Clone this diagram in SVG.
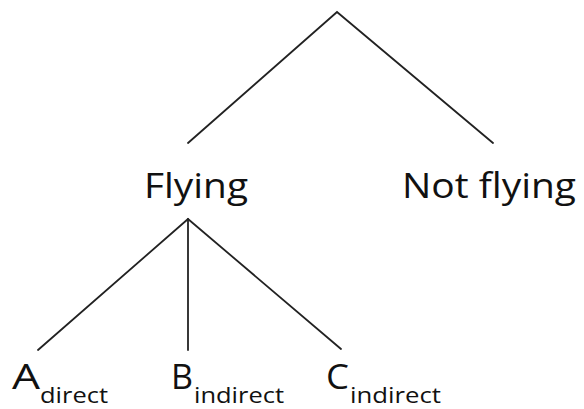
<svg xmlns="http://www.w3.org/2000/svg" width="584" height="409" viewBox="0 0 584 409">
<style>
.t{font-family:"Open Sans","Liberation Sans",sans-serif;fill:#111}
.big{font-size:35px}
.sub{font-size:22px}
.c{stroke:#222;stroke-width:1.8;fill:none;stroke-linecap:round}
</style>
<rect width="584" height="409" fill="#fff"/>
<g id="connectors">
<path class="c" d="M188,143 L337,12 L493,143"/>
<path class="c" d="M38,350 L188,219 L341,349"/>
<path class="c" d="M188,219 L188,350"/>
</g>
<g id="flying"><text class="t big" x="144" y="198" textLength="104" lengthAdjust="spacingAndGlyphs">Flying</text></g>
<g id="not-flying"><text class="t big" x="402" y="198" textLength="174" lengthAdjust="spacingAndGlyphs">Not flying</text></g>
<g id="a-direct"><text class="t big" x="12" y="389" textLength="28" lengthAdjust="spacingAndGlyphs">A</text><text class="t sub" x="40" y="403" textLength="68" lengthAdjust="spacingAndGlyphs">direct</text></g>
<g id="b-indirect"><text class="t big" x="171" y="389" textLength="22" lengthAdjust="spacingAndGlyphs">B</text><text class="t sub" x="194" y="403" textLength="90" lengthAdjust="spacingAndGlyphs">indirect</text></g>
<g id="c-indirect"><text class="t big" x="326" y="389" textLength="23" lengthAdjust="spacingAndGlyphs">C</text><text class="t sub" x="350" y="403" textLength="91" lengthAdjust="spacingAndGlyphs">indirect</text></g>
</svg>
